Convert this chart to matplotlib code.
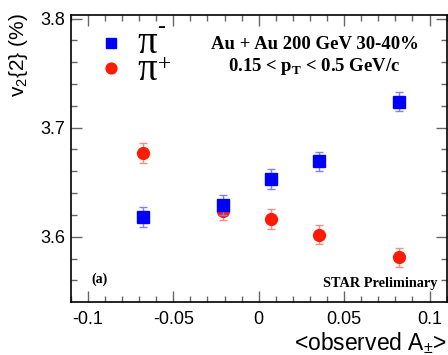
import matplotlib
matplotlib.use("Agg")
import matplotlib.pyplot as plt
from matplotlib.ticker import MultipleLocator

# pi- (blue squares)
x_minus = [-0.068, -0.021, 0.007, 0.035, 0.082]
v2_minus = [3.618, 3.629, 3.653, 3.669, 3.724]
err_minus = [0.009, 0.009, 0.009, 0.009, 0.009]

# pi+ (red circles)
x_plus = [-0.068, -0.021, 0.007, 0.035, 0.082]
v2_plus = [3.677, 3.624, 3.616, 3.602, 3.581]
err_plus = [0.009, 0.009, 0.009, 0.009, 0.009]

xticks = [-0.1, -0.05, 0, 0.05, 0.1]
xtick_labels = ["-0.1", "-0.05", "0", "0.05", "0.1"]
yticks = [3.6, 3.7, 3.8]
ytick_labels = ["3.6", "3.7", "3.8"]

sans = "Liberation Sans"
serif = "Liberation Serif"
plt.rcParams["mathtext.fontset"] = "custom"
plt.rcParams["mathtext.rm"] = serif
plt.rcParams["mathtext.bf"] = serif + ":bold"
plt.rcParams["mathtext.sf"] = sans

fig = plt.figure(figsize=(4.48, 3.55), dpi=100)
ax = fig.add_axes([0.158, 0.150, 0.839, 0.808])

ax.errorbar(x_minus, v2_minus, yerr=err_minus, fmt="s", color="#0000ff",
            ms=8, ecolor="#7f7fff", elinewidth=1.0, capsize=3, zorder=3)
ax.errorbar(x_plus, v2_plus, yerr=err_plus, fmt="o", color="#ff1a00",
            ms=8.5, ecolor="#ff8a80", elinewidth=1.0, capsize=3, zorder=2)

ax.set_xlim(-0.11, 0.11)
ax.set_ylim(3.5404, 3.8034)
ax.xaxis.set_minor_locator(MultipleLocator(0.01))
ax.yaxis.set_minor_locator(MultipleLocator(0.02))
ax.set_xticks(xticks)
ax.set_xticklabels(xtick_labels)
ax.set_yticks(yticks)
ax.set_yticklabels(ytick_labels)
ax.tick_params(which="both", direction="in", top=True, right=True,
               color="0.4", width=1.0)
ax.tick_params(which="major", length=8, labelsize=13)
ax.tick_params(axis="x", which="major", pad=7)
ax.tick_params(axis="y", which="major", pad=4)
ax.tick_params(which="minor", length=4.5)
for lbl in ax.get_xticklabels() + ax.get_yticklabels():
    lbl.set_family(sans)
for sp in ax.spines.values():
    sp.set_linewidth(1.2)

ax.set_ylabel(r"v$_\mathsf{2}${2} (%)", fontsize=15, family=sans, loc="top")
ax.yaxis.set_label_coords(-0.108, 1.005)
ax.set_xlabel(r"<observed A$_\mathsf{\pm}$>", fontsize=16.5, family=sans,
              loc="right", labelpad=1)

# legend drawn by hand
ax.plot([-0.0866], [3.7777], "s", color="#0000ff", ms=7.2, clip_on=False)
ax.plot([-0.0866], [3.7548], "o", color="#ff1a00", ms=7.8, clip_on=False)
ax.text(-0.0712, 3.7685, "π", fontsize=28, family=serif, ha="left",
        va="baseline")
ax.text(-0.0712, 3.7438, "π", fontsize=28, family=serif, ha="left",
        va="baseline")
ax.text(-0.0572, 3.7915, "-", fontsize=17, family=serif, ha="center",
        va="center")
ax.text(-0.0549, 3.758, "+", fontsize=17, family=serif, ha="center",
        va="center")

ax.text(0.0327, 3.772, "Au + Au 200 GeV 30-40%", fontsize=13.5,
        family=serif, weight="bold", ha="center", va="baseline")
ax.text(0.0327, 3.7523, r"0.15 < p$_\mathbf{T}$ < 0.5 GeV/c",
        fontsize=13.5, family=serif, weight="bold", ha="center",
        va="baseline")
ax.text(-0.0981, 3.5582, "(a)", fontsize=10, family=serif, weight="bold",
        ha="left", va="baseline")
ax.text(0.1046, 3.5538, "STAR Preliminary", fontsize=10.3, family=serif,
        weight="bold", ha="right", va="baseline")

fig.savefig("out.png", dpi=100)
